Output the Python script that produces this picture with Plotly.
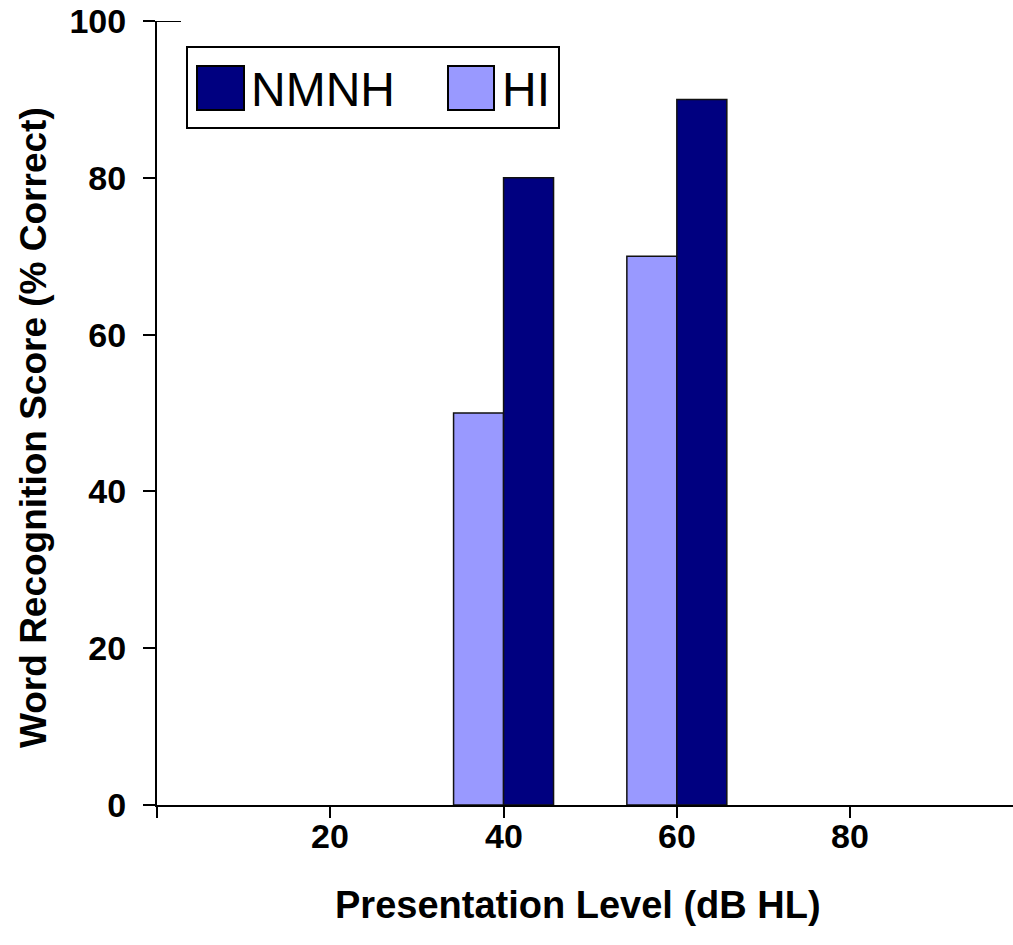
import plotly.graph_objects as go

# Word recognition scores by presentation level
levels = [40, 60]                      # dB HL
hi_scores = [50, 70]                   # hearing-impaired listeners
nmnh_scores = [80, 90]                 # normal listeners
series_names = ["NMNH", "HI"]
x_tickvals = [0, 20, 40, 60, 80]
x_ticktext = ["", "20", "40", "60", "80"]
y_tickvals = [0, 20, 40, 60, 80, 100]

NAVY = "#000080"
LILAC = "#9999FF"
FONT = "Arial, Liberation Sans, sans-serif"

W, H = 1013, 945
L, R, T, B = 157, 0, 21, 140
BAR_W = 5.77

fig = go.Figure()
fig.add_trace(go.Bar(
    x=levels, y=hi_scores, name=series_names[1],
    width=BAR_W, offset=-BAR_W,
    marker=dict(color=LILAC, line=dict(color="#111111", width=1.5)),
    showlegend=False,
))
fig.add_trace(go.Bar(
    x=levels, y=nmnh_scores, name=series_names[0],
    width=BAR_W, offset=0,
    marker=dict(color=NAVY, line=dict(color="#111111", width=1.5)),
    showlegend=False,
))

pw = W - L - R
ph = H - T - B


def px_x(p):
    return (p - L) / pw


def px_y(p):
    return (H - B - p) / ph


shapes = []
# short extension of the top tick across the axis
shapes.append(dict(type="line", xref="paper", yref="y",
                   x0=px_x(157), x1=px_x(181), y0=100, y1=100,
                   line=dict(color="black", width=2)))
# legend frame
shapes.append(dict(type="rect", xref="paper", yref="paper",
                   x0=px_x(187), x1=px_x(559), y0=px_y(128), y1=px_y(47),
                   line=dict(color="black", width=2), fillcolor="white"))
# legend swatches
for (x0, x1, col) in [(197, 244, NAVY), (448, 494, LILAC)]:
    shapes.append(dict(type="rect", xref="paper", yref="paper",
                       x0=px_x(x0), x1=px_x(x1), y0=px_y(110), y1=px_y(66),
                       line=dict(color="black", width=2), fillcolor=col))

annotations = [
    dict(text=series_names[0], xref="paper", yref="paper",
         x=px_x(249), y=px_y(89), xanchor="left", yanchor="middle",
         showarrow=False, font=dict(family=FONT, size=48, color="black")),
    dict(text=series_names[1], xref="paper", yref="paper",
         x=px_x(500), y=px_y(89), xanchor="left", yanchor="middle",
         showarrow=False, font=dict(family=FONT, size=48, color="black")),
    dict(text="<b>Presentation Level (dB HL)</b>", xref="paper", yref="paper",
         x=px_x(578), y=px_y(905), xanchor="center", yanchor="middle",
         showarrow=False, font=dict(family=FONT, size=38, color="black")),
    dict(text="<b>Word Recognition Score (% Correct)</b>", xref="paper", yref="paper",
         x=px_x(33), y=px_y(428), xanchor="center", yanchor="middle",
         textangle=-90, showarrow=False,
         font=dict(family=FONT, size=37, color="black")),
]
# x tick labels sit close under the axis
for v, t in zip(x_tickvals, x_ticktext):
    if t:
        annotations.append(dict(
            text=f"<b>{t}</b>", xref="x", yref="paper", x=v, y=px_y(836),
            xanchor="center", yanchor="middle", showarrow=False,
            font=dict(family=FONT, size=34, color="black")))

fig.update_layout(
    width=W, height=H,
    margin=dict(l=L, r=R, t=T, b=B, pad=0),
    paper_bgcolor="white", plot_bgcolor="white",
    barmode="overlay",
    font=dict(family=FONT, color="black"),
    shapes=shapes,
    annotations=annotations,
    showlegend=False,
)
fig.update_xaxes(
    range=[0, 98.8], tickmode="array", tickvals=x_tickvals,
    showticklabels=False,
    showline=True, linecolor="black", linewidth=2, mirror=False,
    ticks="outside", ticklen=11, tickwidth=2, tickcolor="black",
    showgrid=False, zeroline=False,
)
fig.update_yaxes(
    range=[0, 100], tickmode="array", tickvals=y_tickvals,
    ticktext=[f"<b>{v}</b>" for v in y_tickvals],
    showline=True, linecolor="black", linewidth=2,
    ticks="outside", ticklen=12, tickwidth=2, tickcolor="black",
    showgrid=False, zeroline=False,
    tickfont=dict(family=FONT, size=34, color="black"),
    ticklabelstandoff=10,
)

fig.write_html("out.html")
